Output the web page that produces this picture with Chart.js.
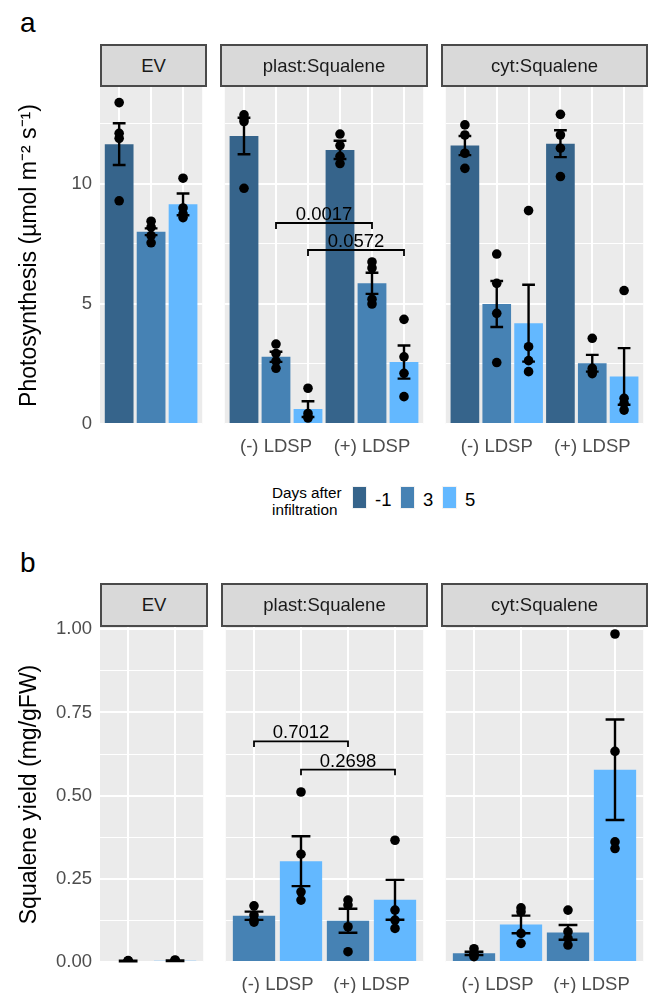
<!DOCTYPE html>
<html>
<head>
<meta charset="utf-8">
<script src="https://cdn.jsdelivr.net/npm/chart.js@4.4.1/dist/chart.umd.min.js"></script>
<style>
  body { margin: 0; background: #fff; }
  #page { position: relative; width: 648px; height: 993px; overflow: hidden; background: #fff;
          font-family: 'Liberation Sans', Arial, sans-serif; }
  canvas { position: absolute; }
  .strip { position: absolute; box-sizing: border-box; background: #D9D9D9; border: 2px solid #4a4a4a;
           color: #1A1A1A; font-size: 18.5px; display: flex; align-items: center; justify-content: center; z-index: 2; }
  .tag { position: absolute; font-size: 28px; line-height: 28px; color: #000; }
  .legend-title { position: absolute; left: 272px; top: 484px; font-size: 15.3px; line-height: 17px; color: #000; }
  .key { position: absolute; top: 485.5px; width: 15px; height: 23px; background: #F2F2F2; }
  .key span { position: absolute; left: 1px; top: 1px; width: 13px; height: 21px; }
  .key-label { position: absolute; top: 489px; font-size: 18.5px; line-height: 22px; color: #000; }
</style>
</head>
<body>
<div id="page">
  <div class="tag" style="left:20px; top:9px;">a</div>
  <div class="tag" style="left:20px; top:549px;">b</div>

  <div class="legend-title">Days after<br>infiltration</div>
  <div class="key" style="left:351.5px;"><span style="background:#36648B"></span></div>
  <div class="key-label" style="left:375px;">-1</div>
  <div class="key" style="left:400px;"><span style="background:#4682B4"></span></div>
  <div class="key-label" style="left:423px;">3</div>
  <div class="key" style="left:441.5px;"><span style="background:#63B8FF"></span></div>
  <div class="key-label" style="left:465px;">5</div>
</div>

<script>
// --- data ---
const dayLevels = ['-1', '3', '5'];
const dayColors = ['#36648B', '#4682B4', '#63B8FF'];

// a: photosynthesis
const photoEvDays = ['-1', '3', '5'];
const photoEvLdsp = ['', '', ''];
const photoEvMean = [11.66, 8.01, 9.15];
const photoEvSe = [0.87, 0.14, 0.45];
const photoEvPoints = [[13.39, 12.11, 11.9, 9.3], [8.45, 8.2, 7.85, 7.55], [10.24, 9.0, 8.75, 8.6]];

const photoPlastDays = ['-1', '3', '5', '-1', '3', '5'];
const photoPlastLdsp = ['(-) LDSP', '(-) LDSP', '(-) LDSP', '(+) LDSP', '(+) LDSP', '(+) LDSP'];
const photoPlastMean = [12.0, 2.8, 0.62, 11.42, 5.86, 2.58];
const photoPlastSe = [0.76, 0.21, 0.33, 0.38, 0.44, 0.69];
const photoPlastPoints = [[12.88, 12.72, 12.6, 9.82], [3.33, 2.94, 2.62, 2.32], [1.49, 0.44, 0.3, 0.25],
                          [12.08, 11.6, 11.15, 10.85], [6.75, 6.5, 5.2, 5.0], [4.36, 2.8, 2.11, 1.14]];

const photoCytDays = ['-1', '3', '5', '-1', '3', '5'];
const photoCytLdsp = ['(-) LDSP', '(-) LDSP', '(-) LDSP', '(+) LDSP', '(+) LDSP', '(+) LDSP'];
const photoCytMean = [11.6, 5.0, 4.2, 11.68, 2.53, 1.98];
const photoCytSe = [0.40, 0.96, 1.6, 0.56, 0.35, 1.18];
const photoCytPoints = [[12.46, 12.04, 11.28, 10.65], [7.08, 5.86, 4.61, 2.56], [8.89, 3.22, 2.64, 2.18],
                        [12.9, 12.04, 11.49, 10.31], [3.57, 2.32, 2.2, 2.1], [5.56, 1.07, 0.86, 0.58]];

const photoBracketFrom = [1, 2];
const photoBracketTo = [4, 5];
const photoBracketY = [8.375, 7.25];
const photoBracketP = ['0.0017', '0.0572'];

// b: squalene yield
const yieldEvDays = ['3', '5'];
const yieldEvLdsp = ['', ''];
const yieldEvMean = [0.003, 0.004];
const yieldEvSe = [0.001, 0.001];
const yieldEvPoints = [[0.004, 0.003, 0.002, 0.002], [0.006, 0.004, 0.003, 0.003]];

const yieldPlastDays = ['3', '5', '3', '5'];
const yieldPlastLdsp = ['(-) LDSP', '(-) LDSP', '(+) LDSP', '(+) LDSP'];
const yieldPlastMean = [0.139, 0.303, 0.124, 0.187];
const yieldPlastSe = [0.0125, 0.075, 0.036, 0.06];
const yieldPlastPoints = [[0.169, 0.141, 0.126, 0.12], [0.511, 0.324, 0.211, 0.186],
                          [0.186, 0.171, 0.106, 0.031], [0.366, 0.156, 0.126, 0.101]];

const yieldCytDays = ['3', '5', '3', '5'];
const yieldCytLdsp = ['(-) LDSP', '(-) LDSP', '(+) LDSP', '(+) LDSP'];
const yieldCytMean = [0.026, 0.113, 0.089, 0.578];
const yieldCytSe = [0.005, 0.0265, 0.022, 0.151];
const yieldCytPoints = [[0.04, 0.027, 0.022, 0.016], [0.163, 0.151, 0.086, 0.056],
                        [0.156, 0.091, 0.071, 0.051], [0.986, 0.633, 0.361, 0.341]];

const yieldBracketFrom = [0, 1];
const yieldBracketTo = [2, 3];
const yieldBracketY = [0.663, 0.578];
const yieldBracketP = ['0.7012', '0.2698'];

// --- layout ---
const page = document.getElementById('page');
const PANEL_LEFT = 100, PANEL_RIGHT = 648, GAP = 13, TOP_PAD = 22;
const FONT = "'Liberation Sans', Arial, sans-serif";
Chart.defaults.font.family = FONT;

const rows = [
  {
    stripTop: 44, top: 87, height: 337, bottomPad: 36,
    yMax: 14.04, step: 2.5, major: 5, fmt: v => String(v), tip: 0.25,
    title: 'Photosynthesis (µmol m⁻² s⁻¹)',
    brackets: { from: photoBracketFrom, to: photoBracketTo, y: photoBracketY, p: photoBracketP },
    facets: [
      { name: 'EV', days: photoEvDays, ldsp: photoEvLdsp, mean: photoEvMean, se: photoEvSe, points: photoEvPoints },
      { name: 'plast:Squalene', days: photoPlastDays, ldsp: photoPlastLdsp, mean: photoPlastMean, se: photoPlastSe, points: photoPlastPoints, bracketed: true },
      { name: 'cyt:Squalene', days: photoCytDays, ldsp: photoCytLdsp, mean: photoCytMean, se: photoCytSe, points: photoCytPoints }
    ]
  },
  {
    stripTop: 583, top: 627, height: 335, bottomPad: 31,
    yMax: 1.007, step: 0.125, major: 0.25, fmt: v => v.toFixed(2), tip: 0.017,
    title: 'Squalene yield (mg/gFW)',
    brackets: { from: yieldBracketFrom, to: yieldBracketTo, y: yieldBracketY, p: yieldBracketP },
    facets: [
      { name: 'EV', days: yieldEvDays, ldsp: yieldEvLdsp, mean: yieldEvMean, se: yieldEvSe, points: yieldEvPoints },
      { name: 'plast:Squalene', days: yieldPlastDays, ldsp: yieldPlastLdsp, mean: yieldPlastMean, se: yieldPlastSe, points: yieldPlastPoints, bracketed: true },
      { name: 'cyt:Squalene', days: yieldCytDays, ldsp: yieldCytLdsp, mean: yieldCytMean, se: yieldCytSe, points: yieldCytPoints }
    ]
  }
];

const isMajor = (v, major) => Math.abs(v / major - Math.round(v / major)) < 1e-6;

// --- plugins ---
const panelBackground = {
  id: 'panelBackground',
  beforeDraw(chart) {
    const { ctx, chartArea: a } = chart;
    ctx.save();
    ctx.fillStyle = '#EBEBEB';
    ctx.fillRect(a.left, a.top, a.width, a.height);
    ctx.restore();
  }
};

const errorBars = {
  id: 'errorBars',
  afterDatasetsDraw(chart) {
    const { ctx, scales: { x, y } } = chart;
    const ds = chart.data.datasets[0];
    const half = Math.abs(x.getPixelForValue(0.2) - x.getPixelForValue(0));
    ctx.save();
    ctx.strokeStyle = '#000';
    ctx.lineWidth = 2.4;
    ds.data.forEach((d, i) => {
      const cx = x.getPixelForValue(d.x);
      const top = y.getPixelForValue(d.y + ds.se[i]);
      const bot = y.getPixelForValue(Math.max(d.y - ds.se[i], 0));
      ctx.beginPath();
      ctx.moveTo(cx, top); ctx.lineTo(cx, bot);
      ctx.moveTo(cx - half, top); ctx.lineTo(cx + half, top);
      ctx.moveTo(cx - half, bot); ctx.lineTo(cx + half, bot);
      ctx.stroke();
    });
    ctx.restore();
  }
};

function groupLabels(ldsp) {
  return {
    id: 'groupLabels',
    afterDraw(chart) {
      const { ctx, chartArea, scales: { x } } = chart;
      ctx.save();
      ctx.fillStyle = '#4D4D4D';
      ctx.font = '18.5px ' + FONT;
      ctx.textAlign = 'center';
      ctx.textBaseline = 'alphabetic';
      [...new Set(ldsp)].filter(Boolean).forEach(g => {
        const idx = ldsp.map((l, i) => (l === g ? i : -1)).filter(i => i >= 0);
        const mid = idx.reduce((s, i) => s + i, 0) / idx.length;
        ctx.fillText(g, x.getPixelForValue(mid), chartArea.bottom + 28);
      });
      ctx.restore();
    }
  };
}

function bracketPlugin(br, tip) {
  return {
    id: 'brackets',
    afterDatasetsDraw(chart) {
      const { ctx, scales: { x, y } } = chart;
      ctx.save();
      ctx.strokeStyle = '#000';
      ctx.fillStyle = '#000';
      ctx.lineWidth = 1.8;
      ctx.font = '18.5px ' + FONT;
      ctx.textAlign = 'center';
      ctx.textBaseline = 'alphabetic';
      br.from.forEach((from, i) => {
        const x0 = x.getPixelForValue(from), x1 = x.getPixelForValue(br.to[i]);
        const yl = y.getPixelForValue(br.y[i]), yt = y.getPixelForValue(br.y[i] - tip);
        ctx.beginPath();
        ctx.moveTo(x0, yt); ctx.lineTo(x0, yl); ctx.lineTo(x1, yl); ctx.lineTo(x1, yt);
        ctx.stroke();
        ctx.fillText(br.p[i], (x0 + x1) / 2, yl - 3);
      });
      ctx.restore();
    }
  };
}

// --- build ---
function addStrip(name, left, top, width, height) {
  const s = document.createElement('div');
  s.className = 'strip';
  s.textContent = name;
  s.style.left = left + 'px';
  s.style.top = top + 'px';
  s.style.width = width + 'px';
  s.style.height = height + 'px';
  page.appendChild(s);
}

function makeChart(row, f, left, width, withAxis) {
  const canvas = document.createElement('canvas');
  canvas.width = width;
  canvas.height = TOP_PAD + row.height + row.bottomPad;
  canvas.style.left = left + 'px';
  canvas.style.top = (row.top - TOP_PAD) + 'px';
  page.appendChild(canvas);

  const n = f.days.length;
  const plugins = [panelBackground, errorBars, groupLabels(f.ldsp)];
  if (f.bracketed) plugins.push(bracketPlugin(row.brackets, row.tip));

  new Chart(canvas, {
    type: 'bar',
    data: {
      datasets: [{
        type: 'bar',
        data: f.mean.map((v, i) => ({ x: i, y: v })),
        se: f.se,
        backgroundColor: f.days.map(d => dayColors[dayLevels.indexOf(d)]),
        borderWidth: 0,
        barPercentage: 0.9,
        categoryPercentage: 1,
        order: 2
      }, {
        type: 'scatter',
        data: f.points.flatMap((pts, i) => pts.map(v => ({ x: i, y: v }))),
        pointRadius: 4.8,
        pointBackgroundColor: '#000',
        pointBorderWidth: 0,
        order: 1
      }]
    },
    options: {
      responsive: false,
      animation: false,
      events: [],
      layout: { padding: { top: TOP_PAD, bottom: row.bottomPad, left: 0, right: 0 } },
      plugins: { legend: { display: false }, tooltip: { enabled: false } },
      scales: {
        x: {
          type: 'linear', min: -0.6, max: n - 0.4, offset: false,
          ticks: { display: false, stepSize: 1, includeBounds: false },
          grid: { color: '#FFFFFF', lineWidth: 2, drawTicks: false, offset: false },
          border: { display: false }
        },
        y: {
          min: 0, max: row.yMax,
          ticks: {
            display: withAxis, stepSize: row.step, includeBounds: false,
            color: '#4D4D4D', font: { size: 18.5 }, padding: 8,
            callback: v => (isMajor(v, row.major) ? row.fmt(v) : '')
          },
          grid: {
            color: '#FFFFFF', drawTicks: false,
            lineWidth: c => (c.tick && isMajor(c.tick.value, row.major) ? 2 : 1)
          },
          border: { display: false },
          title: {
            display: withAxis, text: row.title, color: '#000',
            font: { size: 23 }, padding: { top: 16, bottom: 0 }
          },
          afterFit: s => { s.width = withAxis ? PANEL_LEFT : 0; }
        }
      }
    },
    plugins: plugins
  });
}

rows.forEach(row => {
  const totalUnits = row.facets.reduce((s, f) => s + f.days.length + 0.2, 0);
  const unit = (PANEL_RIGHT - PANEL_LEFT - GAP * (row.facets.length - 1)) / totalUnits;
  let left = PANEL_LEFT;
  row.facets.forEach((f, k) => {
    const w = (f.days.length + 0.2) * unit;
    const l = Math.round(left), r = Math.round(left + w);
    addStrip(f.name, l, row.stripTop, r - l, row.top - row.stripTop);
    if (k === 0) makeChart(row, f, 0, r, true);
    else makeChart(row, f, l, r - l, false);
    left += w + GAP;
  });
});
</script>
</body>
</html>
